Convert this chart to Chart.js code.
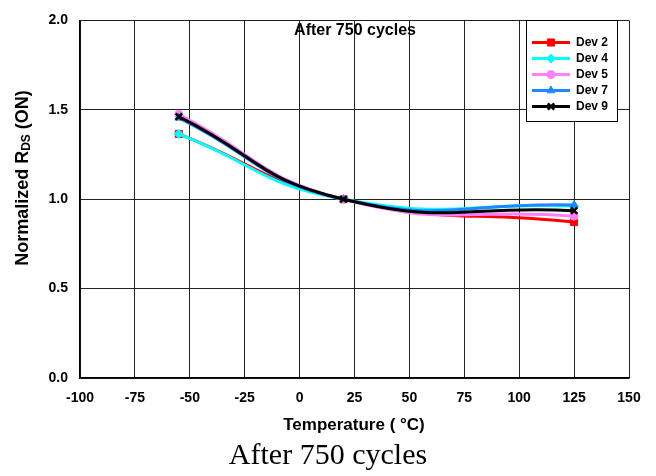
<!DOCTYPE html>
<html>
<head>
<meta charset="utf-8">
<script src="https://cdn.jsdelivr.net/npm/chart.js@4/dist/chart.umd.min.js"></script>
<style>
html,body{margin:0;padding:0;background:#fff;}
canvas{display:block;}
</style>
</head>
<body>
<canvas id="c" width="656" height="476"></canvas>
<script>
// ---- data ----
const temperatures = [-55, 20, 125];
const dev2 = [1.365, 1.0, 0.872];
const dev4 = [1.365, 1.0, 0.962];
const dev5 = [1.475, 1.0, 0.905];
const dev7 = [1.455, 1.0, 0.968];
const dev9 = [1.462, 1.0, 0.936];
const seriesLabels = ['Dev 2', 'Dev 4', 'Dev 5', 'Dev 7', 'Dev 9'];
const xTicks = [-100, -75, -50, -25, 0, 25, 50, 75, 100, 125, 150];
const yTicks = [0.0, 0.5, 1.0, 1.5, 2.0];
const plotTitle = 'After 750 cycles';
const caption = 'After 750 cycles';
const xTitle = 'Temperature ( \u00B0C)';

const colors = ['#FF0000', '#00FFFF', '#FF80FF', '#1E88FF', '#000000'];
const styles = ['rect', 'rectRot', 'circle', 'triangle', 'crossRot'];
const radii = [5, 4.5, 4, 4.5, 4.5];
const seriesValues = [dev2, dev4, dev5, dev7, dev9];

const datasets = seriesValues.map((vals, i) => ({
  label: seriesLabels[i],
  data: temperatures.map((t, j) => ({x: t, y: vals[j]})),
  borderColor: colors[i],
  backgroundColor: colors[i],
  pointStyle: styles[i],
  pointRadius: radii[i],
  pointBorderWidth: i === 4 ? 2.5 : 1,
  borderWidth: 3,
  tension: 0.5,
  fill: false,
  order: 4 - i
}));

const FONT = 'Arial, "Liberation Sans", sans-serif';

const textPlugin = {
  id: 'texts',
  afterDraw(chart) {
    const ctx = chart.ctx;
    ctx.save();
    ctx.fillStyle = '#000';
    // in-plot title
    ctx.font = 'bold 16px ' + FONT;
    ctx.textAlign = 'center';
    ctx.textBaseline = 'middle';
    ctx.fillText(plotTitle, 355, 31);

    // legend box
    ctx.fillStyle = '#fff';
    ctx.fillRect(526, 20, 92, 102);
    ctx.strokeStyle = '#000';
    ctx.lineWidth = 1;
    ctx.strokeRect(526.5, 20.5, 91, 101);
    const rows = [42.5, 58.5, 74.5, 90.5, 106.5];
    chart.data.datasets.forEach((ds, i) => {
      const y = rows[i];
      ctx.strokeStyle = ds.borderColor;
      ctx.lineWidth = 3;
      ctx.beginPath();
      ctx.moveTo(532, y);
      ctx.lineTo(570, y);
      ctx.stroke();
      ctx.fillStyle = ds.backgroundColor;
      ctx.strokeStyle = ds.borderColor;
      ctx.lineWidth = ds.pointBorderWidth;
      Chart.helpers.drawPoint(ctx, {
        pointStyle: ds.pointStyle,
        radius: ds.pointRadius,
        rotation: 0,
        borderWidth: ds.pointBorderWidth
      }, 551, y);
      ctx.fillStyle = '#000';
      ctx.font = 'bold 12px ' + FONT;
      ctx.textAlign = 'left';
      ctx.textBaseline = 'middle';
      ctx.fillText(ds.label, 576, y + 0.5);
    });

    // x-axis title
    ctx.fillStyle = '#000';
    ctx.font = 'bold 17px ' + FONT;
    ctx.textAlign = 'center';
    ctx.textBaseline = 'middle';
    ctx.fillText(xTitle, 354, 425);

    // caption
    ctx.font = '30px "Liberation Serif", "Times New Roman", serif';
    ctx.fillText(caption, 328, 456);

    // y-axis title with subscript
    ctx.translate(23, 178);
    ctx.rotate(-Math.PI / 2);
    const big = 'bold 18px ' + FONT;
    const small = 'bold 12px ' + FONT;
    const parts = [['Normalized R', big, 0], ['DS', small, 4], [' (ON)', big, 0]];
    let total = 0;
    parts.forEach(p => { ctx.font = p[1]; total += ctx.measureText(p[0]).width; });
    let x = -total / 2;
    ctx.textAlign = 'left';
    ctx.textBaseline = 'middle';
    parts.forEach(p => {
      ctx.font = p[1];
      ctx.fillText(p[0], x, p[2]);
      x += ctx.measureText(p[0]).width;
    });
    ctx.restore();
  }
};

new Chart(document.getElementById('c'), {
  type: 'line',
  data: { datasets },
  options: {
    responsive: false,
    animation: false,
    devicePixelRatio: 1,
    layout: { padding: { top: 13, right: 27, left: 0, bottom: 0 } },
    plugins: { legend: { display: false }, tooltip: { enabled: false } },
    scales: {
      x: {
        type: 'linear',
        min: xTicks[0],
        max: xTicks[xTicks.length - 1],
        afterBuildTicks(scale) { scale.ticks = xTicks.map(v => ({value: v})); },
        afterFit(scale) { scale.height = 98; },
        ticks: {
          font: { family: FONT, size: 14, weight: 'bold' },
          color: '#000',
          padding: 12,
          maxRotation: 0,
          autoSkip: false
        },
        grid: { color: '#222', lineWidth: 1, drawTicks: false },
        border: { color: '#000', width: 1.5 }
      },
      y: {
        min: yTicks[0],
        max: yTicks[yTicks.length - 1],
        afterBuildTicks(scale) { scale.ticks = yTicks.map(v => ({value: v})); },
        afterFit(scale) { scale.width = 80; },
        ticks: {
          font: { family: FONT, size: 14, weight: 'bold' },
          color: '#000',
          padding: 12,
          callback: v => Number(v).toFixed(1)
        },
        grid: { color: '#222', lineWidth: 1, drawTicks: false },
        border: { color: '#000', width: 1.5 }
      }
    }
  },
  plugins: [textPlugin]
});
</script>
</body>
</html>
